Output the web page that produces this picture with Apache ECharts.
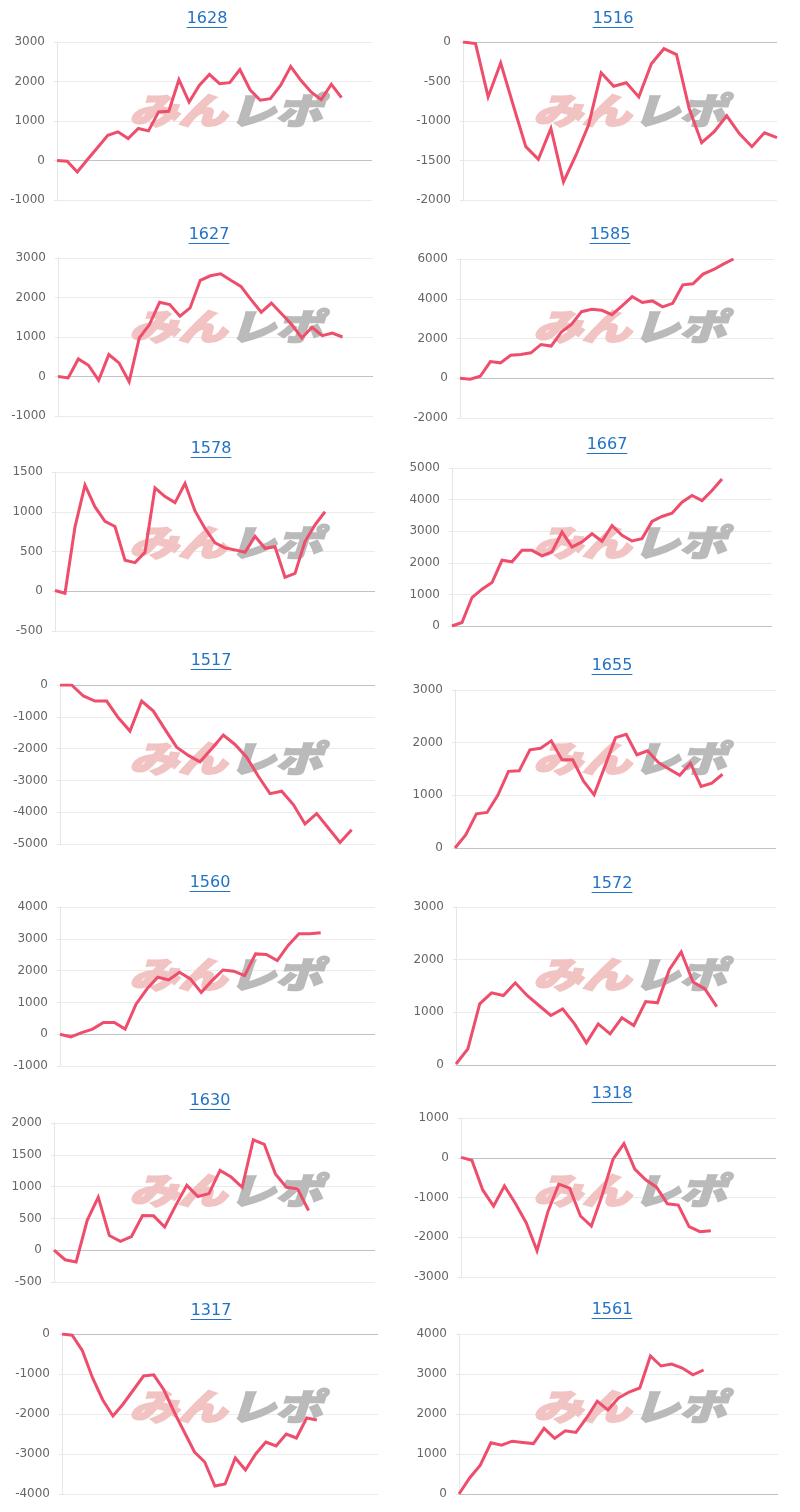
<!DOCTYPE html>
<html><head><meta charset="utf-8">
<script src="https://cdn.jsdelivr.net/npm/echarts@6/dist/echarts.min.js"></script>
<style>html,body{margin:0;padding:0;background:#fff}#c{width:800px;height:1512px}</style>
</head><body><div id="c"></div>
<script>
// ---- data ----
const titles = ['1628','1516','1627','1585','1578','1667','1517','1655','1560','1572','1630','1318','1317','1561'];
const s1628 = [0,-20,-290,25,330,640,725,555,810,750,1230,1245,2045,1480,1900,2180,1945,1970,2300,1790,1525,1565,1900,2380,2030,1735,1540,1930,1590];
const s1516 = [0,-20,-695,-265,-800,-1325,-1485,-1095,-1770,-1430,-1050,-390,-560,-515,-695,-275,-85,-160,-840,-1275,-1135,-935,-1160,-1325,-1150,-1210];
const s1627 = [0,-35,445,285,-95,555,345,-135,975,1315,1880,1820,1525,1735,2435,2550,2600,2435,2280,1945,1625,1860,1590,1315,975,1245,1035,1100,1000];
const s1585 = [0,-50,100,840,775,1160,1190,1280,1700,1620,2325,2710,3350,3470,3420,3200,3640,4110,3810,3890,3590,3770,4700,4750,5240,5460,5745,6000];
const s1578 = [10,-25,810,1335,1060,880,815,390,360,490,1300,1190,1115,1355,1010,790,610,545,520,490,690,540,560,175,225,625,835,1000];
const s1667 = [0,110,900,1165,1375,2080,2030,2395,2395,2220,2345,2975,2500,2660,2920,2680,3180,2870,2690,2765,3310,3465,3570,3920,4130,3970,4285,4655];
const s1517 = [0,0,-345,-505,-505,-1030,-1450,-505,-820,-1395,-1955,-2215,-2415,-2005,-1575,-1870,-2270,-2870,-3415,-3340,-3760,-4370,-4045,-4495,-4950,-4550];
const s1655 = [0,250,650,675,1000,1455,1465,1865,1895,2035,1675,1675,1275,1010,1545,2095,2160,1770,1845,1625,1500,1380,1610,1170,1230,1400];
const s1560 = [0,-85,50,160,370,370,160,945,1420,1790,1705,1950,1740,1315,1685,2020,1980,1840,2525,2505,2315,2790,3160,3160,3190];
const s1572 = [20,305,1160,1370,1320,1560,1320,1130,940,1065,780,420,780,590,895,750,1205,1180,1810,2145,1575,1445,1110];
const s1630 = [0,-150,-185,470,835,230,140,215,545,540,365,705,1020,845,890,1255,1150,990,1735,1665,1200,990,965,625];
const s1318 = [10,-65,-810,-1215,-710,-1145,-1635,-2340,-1355,-665,-765,-1465,-1720,-935,-35,355,-285,-555,-740,-1160,-1190,-1735,-1860,-1835];
const s1317 = [0,-30,-420,-1100,-1650,-2050,-1750,-1400,-1050,-1020,-1400,-1950,-2450,-2950,-3200,-3800,-3750,-3100,-3400,-3000,-2700,-2800,-2500,-2600,-2100,-2150];
const s1561 = [0,400,720,1280,1220,1320,1290,1260,1640,1390,1580,1540,1900,2320,2100,2400,2550,2650,3450,3200,3250,3150,2980,3100];
const seriesData = [s1628,s1516,s1627,s1585,s1578,s1667,s1517,s1655,s1560,s1572,s1630,s1318,s1317,s1561];
const catCounts = [32,26,32,32,33,33,28,31,30,28,30,30,32,31];
const yMin  = [-1000,-2000,-1000,-2000,-500,0,-5000,0,-1000,0,-500,-3000,-4000,0];
const yMax  = [3000,0,3000,6000,1500,5000,0,3000,4000,3000,2000,1000,0,4000];
const yStep = [1000,500,1000,2000,500,1000,1000,1000,1000,1000,500,1000,1000,1000];

// ---- layout (pixels) ----
const plotBox = [ // left, right, top, bottom
  [57,372,42,200],[463,777,42,200],
  [58,373,258,416],[460,774,259,418],
  [55,375,472,631],[452,772,468,626],
  [60,375,685,844],[455,776,690,848],
  [60,375,907,1066],[456,776,907,1065],
  [54,375,1123,1282],[461,776,1118,1277],
  [62,378,1334,1494],[459,778,1334,1494]
];
const titlePos = [[207,19],[613,19],[209,235],[610,235],[211,449],[607,445],[211,661],[612,666],[210,883],[612,884],[210,1101],[612,1094],[211,1311],[612,1310]];
const rowTops = [0,216,432,648,864,1080,1296];

const titleFont = '16px "DejaVu Sans"';
const titleColor = '#2273c6';
const ctx = document.createElement('canvas').getContext('2d');
ctx.font = titleFont;

const wmFont = 'italic 900 48px "Noto Sans CJK JP"';
const wmPink = '#f2c3c3';
const wmGray = '#bababa';

const grids=[], xAxes=[], yAxes=[], series=[], graphics=[];
seriesData.forEach((data,i)=>{
  const b = plotBox[i];
  grids.push({left:b[0], top:b[2], width:b[1]-b[0], height:b[3]-b[2]});
  const cats = [];
  for (let k=0;k<catCounts[i];k++) cats.push(String(k+1));
  xAxes.push({type:'category', gridIndex:i, data:cats, boundaryGap:false,
    axisLine:{show:false}, axisTick:{show:false}, axisLabel:{show:false}, splitLine:{show:false}});
  const n = Math.round((yMax[i]-yMin[i])/yStep[i]);
  const colors=[];
  for (let k=0;k<=n;k++) colors.push(yMin[i]+k*yStep[i]===0 ? '#c2c2c2' : '#ebebeb');
  yAxes.push({type:'value', gridIndex:i, min:yMin[i], max:yMax[i], interval:yStep[i],
    axisLine:{show:true, lineStyle:{color:'#e6e6e6', width:1}},
    axisTick:{show:true, length:3, lineStyle:{color:'#e6e6e6'}},
    axisLabel:{color:'#666', fontSize:12, fontFamily:'DejaVu Sans', margin:12, formatter:v=>String(v)},
    splitLine:{show:true, lineStyle:{color:colors, width:1}}});
  series.push({type:'line', xAxisIndex:i, yAxisIndex:i, data:data, symbol:'none', showSymbol:false,
    lineStyle:{color:'#ef4d6c', width:3, join:'miter'}, itemStyle:{color:'#ef4d6c'}, z:5, animation:false});
  // title + underline
  const tp = titlePos[i];
  const w = ctx.measureText(titles[i]).width;
  graphics.push({type:'text', x:tp[0], y:tp[1], z:10,
    style:{text:titles[i], font:titleFont, fill:titleColor, align:'center', verticalAlign:'middle', textAlign:'center', textVerticalAlign:'middle'}});
  graphics.push({type:'rect', z:10, shape:{x:tp[0]-w/2, y:tp[1]+8, width:w, height:1}, style:{fill:titleColor}});
  // watermark
  const cx = (i%2===0) ? 228 : 632;
  const cy = rowTops[Math.floor(i/2)] + 110;
  graphics.push({type:'text', x:cx-1, y:cy, z:1, scaleY:0.75, scaleX:1.02,
    style:{text:'みん', font:wmFont, fill:wmPink, stroke:wmPink, lineWidth:2.5, align:'right', verticalAlign:'middle', textAlign:'right', textVerticalAlign:'middle'}});
  graphics.push({type:'text', x:cx+1, y:cy, z:1, scaleY:0.75, scaleX:0.97,
    style:{text:'レポ', font:wmFont, fill:wmGray, stroke:wmGray, lineWidth:2.5, align:'left', verticalAlign:'middle', textAlign:'left', textVerticalAlign:'middle'}});
});

const chart = echarts.init(document.getElementById('c'), null, {renderer:'canvas'});
chart.setOption({animation:false, backgroundColor:'#fff', grid:grids, xAxis:xAxes, yAxis:yAxes, series:series, graphic:graphics});
</script></body></html>
